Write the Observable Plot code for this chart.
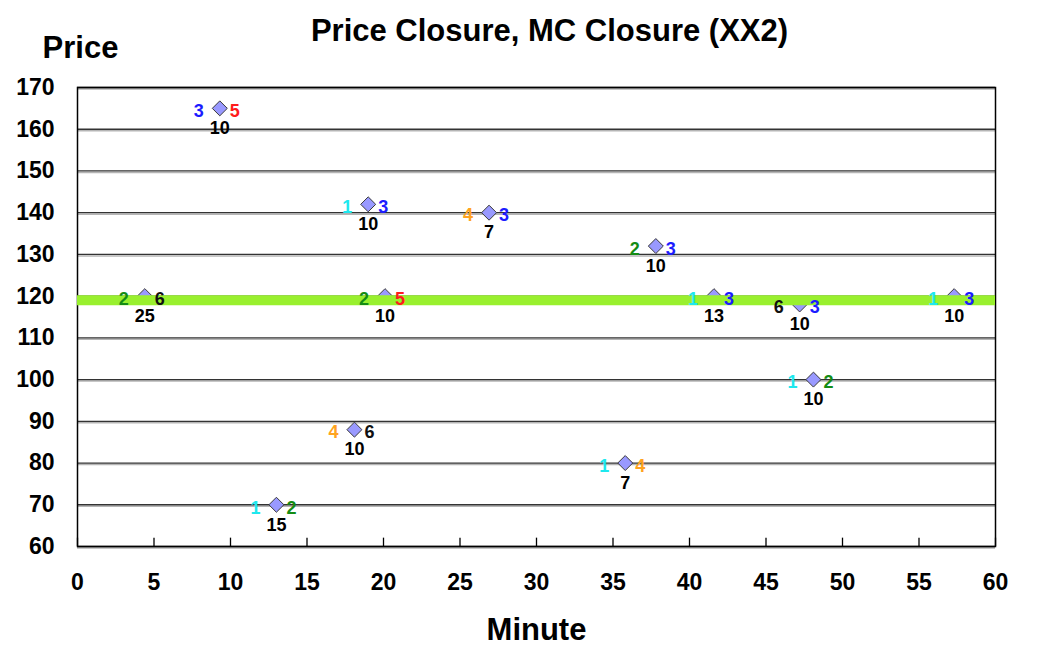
<!DOCTYPE html>
<html>
<head>
<meta charset="utf-8">
<script src="https://cdn.jsdelivr.net/npm/d3@7"></script>
<script src="https://cdn.jsdelivr.net/npm/@observablehq/plot@0.6"></script>
<style>
  html, body { margin: 0; padding: 0; background: #fff; }
</style>
</head>
<body>
<div id="chart"></div>
<script>
const title = "Price Closure, MC Closure (XX2)";
const xLabel = "Minute";
const yLabel = "Price";
const xTicks = [0, 5, 10, 15, 20, 25, 30, 35, 40, 45, 50, 55, 60];
const yTicks = [60, 70, 80, 90, 100, 110, 120, 130, 140, 150, 160, 170];
const minutes = [9.3, 4.4, 13.0, 18.1, 19.0, 20.1, 26.9, 35.8, 37.8, 41.6, 47.2, 48.1, 57.3];
const prices = [165, 120, 70, 88, 142, 120, 140, 80, 132, 120, 118, 100, 120];
const leftLabels = [3, 2, 1, 4, 1, 2, 4, 1, 2, 1, 6, 1, 1];
const rightLabels = [5, 6, 2, 6, 3, 5, 3, 4, 3, 3, 3, 2, 3];
const belowLabels = [10, 25, 15, 10, 10, 10, 7, 7, 10, 13, 10, 10, 10];
const closureLevel = [119];
const digitColors = {1: "#1ee8ee", 2: "#148c14", 3: "#1c1cff", 4: "#ffa320", 5: "#ff1c1c", 6: "#111111"};

const data = minutes.map((m, i) => ({
  minute: m, price: prices[i], left: leftLabels[i], right: rightLabels[i], below: belowLabels[i]
}));

const family = "Liberation Sans, Arial, sans-serif";
const labelFont = {fontFamily: family, fontWeight: "bold", fontSize: 18};
const axisFont = {fontFamily: family, fontWeight: "bold", fontSize: 23, fill: "#000"};
const bigFont = {fontFamily: family, fontWeight: "bold", fontSize: 31, fill: "#000", lineAnchor: "middle"};

const chart = Plot.plot({
  width: 1040,
  height: 647,
  marginLeft: 77,
  marginRight: 45,
  marginTop: 87,
  marginBottom: 101,
  style: {background: "#fff", color: "#000"},
  x: {domain: [0, 60]},
  y: {domain: [60, 170]},
  marks: [
    Plot.ruleY(yTicks, {stroke: "#b5b5b5", strokeWidth: 1.5, dy: 1.5}),
    Plot.ruleY(yTicks, {stroke: "#333", strokeWidth: 1.3}),
    Plot.ruleX(xTicks, {y1: 60, y2: 62, stroke: "#000", strokeWidth: 1.3}),
    Plot.frame({stroke: "#000", strokeWidth: 1.5}),
    Plot.axisX(xTicks, {tickSize: 0, tickPadding: 27, label: null, ...axisFont}),
    Plot.axisY(yTicks, {tickSize: 0, tickPadding: 23, label: null, ...axisFont}),
    Plot.dot(data, {x: "minute", y: "price", symbol: "diamond2", r: 6.75, fill: "#9999ff", stroke: "#3a3a3a", strokeWidth: 1}),
    Plot.ruleY(closureLevel, {stroke: "#99f02e", strokeWidth: 10}),
    Plot.text(data, {x: "minute", y: "price", text: "left", dx: -21, dy: 3, fill: d => digitColors[d.left], ...labelFont}),
    Plot.text(data, {x: "minute", y: "price", text: "right", dx: 15, dy: 3, fill: d => digitColors[d.right], ...labelFont}),
    Plot.text(data, {x: "minute", y: "price", text: "below", dy: 20, fill: "#000", ...labelFont}),
    Plot.text([title], {text: d => d, frameAnchor: "top", dx: 13, dy: -56, ...bigFont}),
    Plot.text([yLabel], {text: d => d, frameAnchor: "top-left", dx: 3, dy: -39, textAnchor: "middle", ...bigFont}),
    Plot.text([xLabel], {text: d => d, frameAnchor: "bottom", dy: 84, ...bigFont})
  ]
});
document.getElementById("chart").appendChild(chart);
</script>
</body>
</html>
